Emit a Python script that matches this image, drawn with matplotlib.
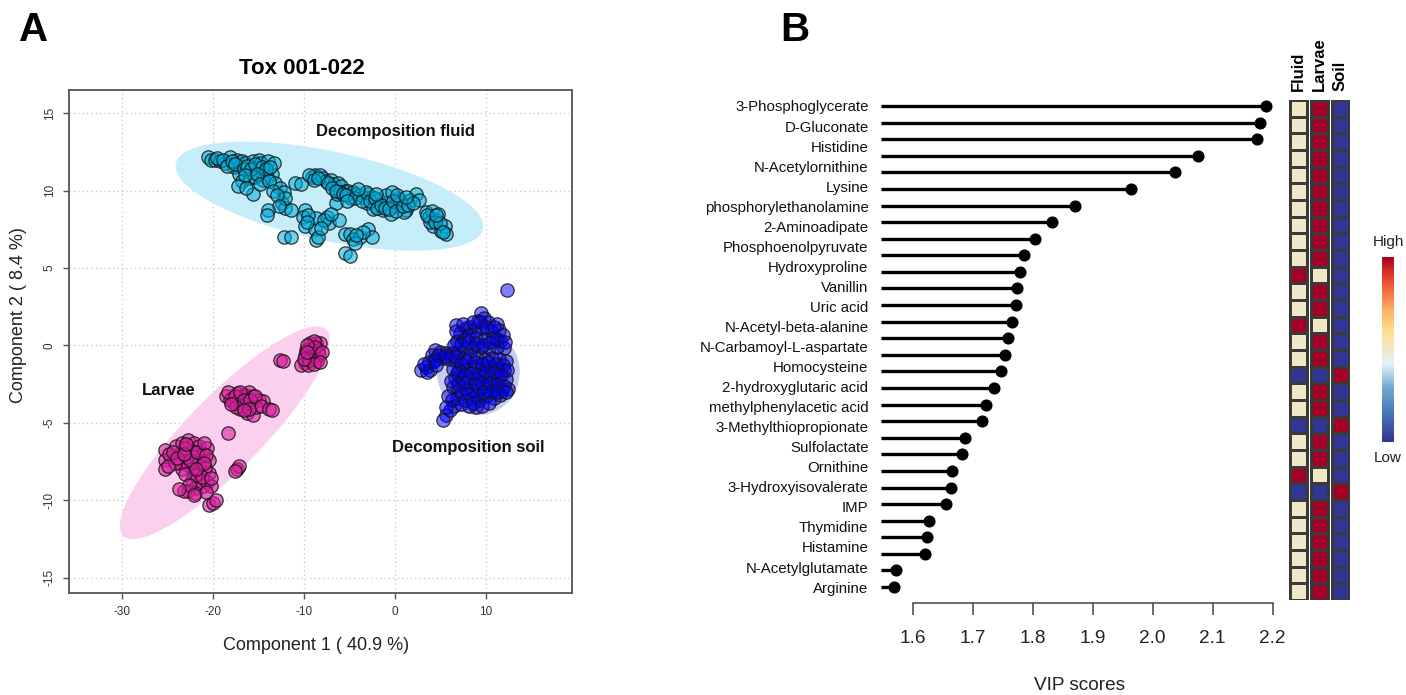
import numpy as np
import matplotlib
matplotlib.use("Agg")
import matplotlib.pyplot as plt
from matplotlib.colors import LinearSegmentedColormap

plt.rcParams['font.family'] = ['Liberation Sans', 'DejaVu Sans']
plt.rcParams['axes.unicode_minus'] = False

# ---------------- Panel A: PLS-DA score plot ----------------
fluid_scores = [
    (-20.5, 12.2), (-20.2, 12.0), (-19.8, 11.95), (-19.2, 11.9), (-18.7, 11.8), (-18.1, 12.2),
    (-17.7, 11.5), (-17.3, 12.0), (-17.0, 11.6), (-16.8, 11.9), (-16.4, 11.8), (-16.0, 11.2),
    (-15.6, 11.9), (-15.2, 11.5), (-14.9, 12.0), (-14.7, 11.8), (-14.3, 11.3), (-13.9, 11.9),
    (-13.5, 11.1), (-13.3, 11.8), (-17.1, 11.1), (-16.8, 10.6), (-15.9, 10.8), (-15.3, 10.9),
    (-14.5, 10.7), (-14.0, 10.9), (-13.1, 10.5), (-12.6, 10.2), (-15.6, 9.8), (-17.2, 10.3),
    (-12.2, 9.9), (-12.4, 9.2), (-12.0, 8.9), (-11.4, 8.75), (-12.0, 9.5),
    (-19.5, 12.1), (-18.9, 12.0), (-18.4, 11.6), (-17.9, 11.9), (-17.5, 11.7), (-16.6, 11.4),
    (-16.2, 11.6), (-15.8, 11.4), (-15.4, 11.7), (-14.6, 11.5), (-14.1, 11.4), (-13.7, 11.5),
    (-16.5, 11.0), (-15.1, 11.1), (-14.8, 10.4), (-13.8, 10.6), (-13.4, 10.0), (-12.9, 9.7),
    (-12.7, 9.0), (-16.3, 10.2),
    (-13.9, 8.75), (-14.0, 8.4), (-12.2, 7.0), (-11.4, 7.0), (-10.9, 10.5), (-10.3, 10.4),
    (-9.9, 8.75), (-10.1, 8.3), (-9.8, 7.7), (-8.8, 7.5), (-8.6, 6.8), (-8.4, 7.0), (-8.6, 8.2),
    (-7.4, 8.3), (-7.2, 7.9), (-6.1, 8.1), (-6.5, 9.2), (-6.3, 9.8),
    (-9.5, 8.4), (-9.6, 8.0), (-7.8, 8.1), (-8.1, 7.6), (-7.0, 8.5),
    (-9.1, 10.9), (-8.7, 11.0), (-8.2, 11.0), (-7.9, 10.8), (-7.6, 10.6), (-7.0, 10.7),
    (-6.7, 10.4), (-6.2, 10.5), (-5.9, 10.3), (-5.5, 10.0), (-5.1, 10.0), (-4.6, 9.9),
    (-4.2, 9.8), (-3.8, 9.7), (-3.4, 9.6), (-2.9, 9.8), (-2.5, 9.6), (-2.1, 9.0), (-1.7, 9.4),
    (-1.3, 8.75), (-0.8, 9.2), (-0.4, 8.5), (0.0, 9.0), (0.4, 9.5), (0.8, 9.2), (1.3, 8.75),
    (0.6, 9.4), (1.7, 9.4), (2.3, 9.8), (2.7, 9.4), (-3.0, 9.2), (-1.0, 9.7), (-4.8, 9.5),
    (-6.0, 9.9), (-2.4, 8.8), (1.0, 8.6), (-0.3, 9.9),
    (-9.4, 11.0), (-8.9, 10.7), (-8.4, 10.8), (-7.3, 10.5), (-6.9, 10.2), (-6.4, 10.0),
    (-5.7, 9.8), (-5.3, 9.7), (-4.4, 9.5), (-3.6, 9.3), (-3.2, 9.9), (-2.7, 9.3), (-2.2, 9.5),
    (-1.9, 8.9), (-1.5, 9.1), (-1.1, 8.9), (-0.6, 8.8), (-0.2, 9.3), (0.2, 8.7), (0.9, 9.0),
    (1.5, 9.1), (2.0, 9.2), (-4.0, 10.1), (-2.0, 9.8), (0.3, 9.7), (1.2, 9.6), (-5.2, 9.3),
    (-5.5, 7.2), (-4.9, 7.2), (-4.6, 6.9), (-3.8, 7.0), (-2.9, 7.5), (-2.5, 7.0), (-4.4, 6.6),
    (-3.5, 7.3), (-4.2, 7.1), (-5.5, 5.96), (-4.9, 5.8),
    (3.4, 8.6), (3.8, 8.3), (4.1, 8.7), (4.6, 8.1), (4.2, 7.7), (4.8, 8.5), (5.1, 7.4),
    (5.5, 7.7), (5.7, 7.2), (3.9, 8.0), (3.6, 8.4), (4.4, 8.0), (5.0, 7.9), (5.3, 7.3),
    (4.5, 8.4),
]

larvae_scores = [
    (-9.3, 0.15), (-8.6, 0.15), (-8.2, 0.15), (-8.9, 0.3), (-9.7, -0.28), (-9.1, -0.28),
    (-8.4, -0.28), (-9.9, -0.6), (-9.3, -0.7), (-8.6, -0.8), (-9.9, -1.14), (-10.3, -1.25),
    (-9.5, -1.25), (-8.5, -1.03), (-9.0, -0.5), (-8.3, -0.6), (-8.8, -0.1), (-9.6, 0.0),
    (-8.0, -0.4), (-9.4, -0.95), (-8.9, -1.2), (-10.0, -0.9), (-8.2, -1.1), (-9.6, -0.45),
    (-12.6, -0.93), (-12.3, -1.0),
    (-18.5, -3.3), (-17.9, -3.4), (-17.3, -3.1), (-16.9, -3.3), (-16.4, -3.2), (-16.0, -3.0),
    (-15.6, -3.3), (-14.9, -3.5), (-17.1, -3.6), (-17.7, -3.7), (-16.4, -3.8), (-15.8, -3.9),
    (-16.2, -4.4), (-15.6, -4.5), (-18.1, -3.5), (-16.8, -3.9), (-14.5, -3.6), (-15.2, -4.0),
    (-17.0, -4.1), (-18.3, -3.0), (-17.6, -3.3), (-17.0, -3.0), (-16.6, -3.5), (-15.9, -3.5),
    (-15.3, -3.3), (-14.7, -3.9), (-16.0, -4.1), (-17.4, -4.0), (-16.6, -4.2), (-18.0, -3.8),
    (-13.8, -4.1), (-13.5, -4.15),
    (-18.3, -5.67),
    (-17.3, -8.0), (-17.1, -7.8), (-17.5, -8.1),
    (-25.3, -6.75), (-24.6, -7.2), (-25.3, -7.4), (-25.3, -8.0), (-24.0, -6.5), (-23.6, -7.0),
    (-23.4, -6.3), (-22.7, -6.1), (-22.1, -6.3), (-21.5, -6.5), (-20.6, -6.6), (-22.3, -6.8),
    (-22.9, -7.2), (-21.9, -7.2), (-21.1, -7.0), (-20.4, -7.4), (-23.6, -7.6), (-22.7, -7.7),
    (-21.5, -7.6), (-22.3, -8.0), (-23.4, -8.0), (-21.5, -8.25), (-20.4, -8.25), (-22.3, -8.7),
    (-21.5, -8.8), (-20.6, -8.8), (-21.1, -9.1), (-21.9, -9.2), (-22.7, -9.4), (-23.2, -9.4),
    (-21.9, -9.55), (-20.2, -9.1), (-24.2, -7.6), (-24.8, -7.0), (-20.8, -7.9), (-22.0, -8.4),
    (-24.9, -7.8), (-24.4, -6.9), (-23.9, -7.3), (-23.1, -6.6), (-22.5, -7.4), (-21.7, -6.9),
    (-21.0, -6.3), (-20.7, -7.1), (-23.0, -8.3), (-22.6, -9.0), (-21.2, -8.5), (-20.7, -9.5),
    (-22.1, -9.7), (-23.7, -9.3), (-21.0, -7.6), (-20.2, -8.6), (-21.8, -8.0), (-23.2, -7.0),
    (-22.9, -6.4),
    (-20.4, -10.3), (-20.0, -10.2), (-19.6, -10.0),
]

soil_scores = [
    (9.5, 2.1), (9.8, 1.8), (9.2, 1.6), (10.3, 1.5), (11.2, 1.4), (11.5, 1.0), (6.7, 1.3),
    (7.8, 1.1), (8.3, 1.2), (8.8, 1.0), (9.6, 1.1), (10.6, 0.9), (7.2, 0.8), (6.9, 0.3),
    (7.6, 0.4), (8.2, 0.6), (9.0, 0.5), (9.9, 0.4), (10.8, 0.5), (11.6, 0.3), (12.0, -0.2),
    (11.2, -0.1), (10.4, -0.2), (9.5, -0.1), (8.6, -0.1), (7.8, -0.2), (7.0, -0.4), (6.3, -0.5),
    (5.7, -0.5), (5.0, -0.4), (4.4, -0.3), (4.1, -0.6), (3.8, -1.1), (3.4, -1.4), (2.9, -1.6),
    (3.9, -1.6), (4.6, -0.9), (5.3, -0.8), (6.0, -0.9), (6.8, -1.0), (7.5, -0.8), (8.3, -0.7),
    (9.1, -0.8), (9.9, -0.9), (10.7, -0.8), (11.5, -0.9), (12.2, -1.0), (12.0, -1.6),
    (11.2, -1.5), (10.4, -1.4), (9.5, -1.5), (8.7, -1.4), (7.9, -1.5), (7.1, -1.6), (6.4, -1.5),
    (6.6, -2.1), (7.4, -2.2), (8.2, -2.1), (9.0, -2.2), (9.8, -2.0), (10.6, -2.1), (11.4, -2.2),
    (12.2, -2.2), (12.5, -2.8), (11.8, -2.9), (11.0, -2.8), (10.2, -2.7), (9.4, -2.8),
    (8.6, -2.9), (7.8, -2.8), (7.0, -2.9), (6.4, -2.7), (6.9, -3.4), (7.7, -3.5), (8.5, -3.4),
    (9.3, -3.5), (10.1, -3.3), (10.9, -3.4), (11.6, -3.2), (9.0, -4.0), (8.2, -3.9), (6.5, -3.9),
    (5.9, -3.3), (5.7, -4.5), (5.3, -4.8), (6.1, -4.2),
    (6.8, 0.9), (7.5, 1.4), (8.6, 1.5), (9.4, 1.5), (10.0, 1.2), (10.9, 1.2), (11.9, 0.7),
    (6.5, 0.0), (7.3, 0.1), (8.1, 0.2), (8.9, 0.1), (9.7, 0.0), (10.5, 0.2), (11.3, 0.4),
    (12.1, 0.2), (6.6, -0.7), (7.3, -1.2), (8.0, -1.0), (8.8, -1.1), (9.6, -1.2), (10.3, -1.1),
    (11.1, -1.2), (11.9, -1.3), (12.4, -1.6), (6.9, -1.8), (7.7, -1.9), (8.5, -1.8), (9.3, -1.9),
    (10.1, -1.7), (10.9, -1.8), (11.7, -1.9), (6.2, -2.3), (7.0, -2.5), (7.9, -2.4), (8.8, -2.5),
    (9.6, -2.4), (10.4, -2.4), (11.2, -2.5), (12.0, -2.6), (7.3, -3.1), (8.1, -3.1), (8.9, -3.2),
    (9.8, -3.0), (10.6, -3.0), (11.3, -3.0), (12.2, -3.0), (7.3, -3.8), (8.6, -3.7), (9.6, -3.9),
    (10.4, -3.7), (6.3, -3.5), (5.6, -4.0), (5.5, -0.7), (4.8, -0.6), (4.3, -1.0), (3.6, -1.7),
    (3.2, -1.2), (4.5, -1.3),
    (12.3, 3.6),
]

# confidence ellipses: centre and the two semi-axis vectors (score units)
fluid_ellipse = {"center": (-7.17, 9.64), "major": (16.86, -2.17), "minor": (-1.36, -2.78)}
larvae_ellipse = {"center": (-18.66, -5.64), "major": (11.05, 6.72), "minor": (3.32, -1.435)}
soil_ellipse = {"center": (9.2, -1.7), "major": (0.0, 2.81), "minor": (4.55, 0.0)}

group_labels = ["Decomposition fluid", "Larvae", "Decomposition soil"]
group_label_pos = [(0.1, 13.8), (-24.8, -2.9), (8.1, -6.6)]

# ---------------- Panel B: VIP scores + group heatmap ----------------
vip_labels = [
    "3-Phosphoglycerate", "D-Gluconate", "Histidine", "N-Acetylornithine", "Lysine",
    "phosphorylethanolamine", "2-Aminoadipate", "Phosphoenolpyruvate", "Hydroxyproline",
    "Vanillin", "Uric acid", "N-Acetyl-beta-alanine", "N-Carbamoyl-L-aspartate",
    "Homocysteine", "2-hydroxyglutaric acid", "methylphenylacetic acid",
    "3-Methylthiopropionate", "Sulfolactate", "Ornithine", "3-Hydroxyisovalerate", "IMP",
    "Thymidine", "Histamine", "N-Acetylglutamate", "Arginine",
]
vip_scores = [
    2.189, 2.179, 2.173, 2.075, 2.037, 1.964, 1.870, 1.832, 1.804, 1.785,
    1.779, 1.774, 1.772, 1.765, 1.759, 1.753, 1.747, 1.736, 1.722, 1.716,
    1.687, 1.682, 1.665, 1.663, 1.655, 1.627, 1.624, 1.621, 1.572, 1.569,
]
vip_ticks = [1.6, 1.7, 1.8, 1.9, 2.0, 2.1, 2.2]

# relative level per group: -1 low, 0 middle, 1 high
heat_groups = ["Fluid", "Larvae", "Soil"]
fluid_level = [0]*10 + [1, 0, 0, 1, 0, 0, -1, 0, 0, -1, 0, 0, 1, -1] + [0]*6
larvae_level = [1]*10 + [0, 1, 1, 0, 1, 1, -1, 1, 1, -1, 1, 1, 0, -1] + [1]*6
soil_level = [-1]*16 + [1, -1, -1, 1, -1, -1, -1, 1] + [-1]*6

# ---------------- figure ----------------
W, H = 1406, 695
fig = plt.figure(figsize=(W / 100, H / 100), dpi=100)


def box(left, top, right, bottom):
    return [left / W, 1 - bottom / H, (right - left) / W, (bottom - top) / H]


# ---- Panel A ----
axA = fig.add_axes(box(69, 90, 572, 593))
axA.set_xlim(-35.8, 19.5)
axA.set_ylim(-16.0, 16.5)
axA.set_xticks([-30, -20, -10, 0, 10])
axA.set_yticks([-15, -10, -5, 0, 5, 10, 15])
axA.set_yticklabels([str(v) for v in [-15, -10, -5, 0, 5, 10, 15]], rotation=90, va='center')
axA.grid(True, linestyle=(0, (1, 2.5)), color='#c4c4c4', lw=0.9)
axA.set_axisbelow(True)
for sp in axA.spines.values():
    sp.set_color('#555555')
    sp.set_linewidth(1.3)
axA.tick_params(axis='both', direction='out', length=4.5, width=1, color='#555555',
                labelsize=8.5, labelcolor='#333333', pad=5)

t = np.linspace(0, 2 * np.pi, 300)
ellipse_fill = ['#c6eefa', '#fbd0ee', '#c9c9f6']
point_face = [(0.0, 0.68, 0.86, 0.55), (0.86, 0.12, 0.62, 0.6), (0.0, 0.0, 1.0, 0.5)]
groups = [
    (fluid_scores, fluid_ellipse),
    (larvae_scores, larvae_ellipse),
    (soil_scores, soil_ellipse),
]
for (pts, ell), fc_ell in zip(groups, ellipse_fill):
    c = np.array(ell["center"])
    a = np.array(ell["major"])
    b = np.array(ell["minor"])
    ex = c[0] + np.cos(t) * a[0] + np.sin(t) * b[0]
    ey = c[1] + np.cos(t) * a[1] + np.sin(t) * b[1]
    axA.fill(ex, ey, color=fc_ell, lw=0, zorder=1)
for (pts, ell), fc in zip(groups, point_face):
    p = np.array(pts)
    axA.scatter(p[:, 0], p[:, 1], s=92, facecolor=fc, edgecolor=(0.08, 0.08, 0.08, 0.85),
                linewidth=0.9, zorder=2)

for lab, (lx, ly) in zip(group_labels, group_label_pos):
    axA.text(lx, ly, lab, ha='center', va='center', fontsize=12, fontweight='bold',
             color='#111111', zorder=3)

fig.text(302 / W, 1 - 68 / H, "Tox 001-022", ha='center', va='center', fontsize=16,
         fontweight='bold')
fig.text(316 / W, 1 - 646 / H, "Component 1 ( 40.9 %)", ha='center', va='center',
         fontsize=13, color='#222222')
fig.text(19 / W, 1 - 315 / H, "Component 2 ( 8.4 %)", ha='center', va='center',
         fontsize=13, rotation=90, color='#222222')
fig.text(34 / W, 1 - 30 / H, "A", ha='center', va='center', fontsize=29, fontweight='bold')
fig.text(795 / W, 1 - 30 / H, "B", ha='center', va='center', fontsize=29, fontweight='bold')

# ---- Panel B: lollipops ----
n = len(vip_scores)
rows = np.arange(n)
axB = fig.add_axes(box(881, 100, 1279, 603))
axB.set_xlim(1.547, 2.2105)
axB.set_ylim(n - 1 + 0.96, -0.36)
x_start = axB.get_xlim()[0]
axB.hlines(rows, x_start, vip_scores, color='black', lw=2.4)
axB.plot(vip_scores, rows, 'o', color='black', ms=7.7)
axB.set_yticks(np.linspace(0, n - 1, len(vip_labels)))
axB.set_yticklabels(vip_labels, fontsize=10.8, color='#111111')
axB.tick_params(axis='y', length=0, pad=9)
for s in ['top', 'right', 'left']:
    axB.spines[s].set_visible(False)
axB.spines['bottom'].set_bounds(vip_ticks[0], vip_ticks[-1])
axB.spines['bottom'].set_color('#444444')
axB.spines['bottom'].set_linewidth(1.1)
axB.set_xticks(vip_ticks)
axB.set_xticklabels([f"{v:.1f}" for v in vip_ticks])
axB.tick_params(axis='x', direction='out', length=8.6, width=1.1, color='#444444', pad=11,
                labelsize=13.7, labelcolor='#222222')
fig.text(1080 / W, 1 - 685 / H, "VIP scores", ha='center', va='center', fontsize=13.7,
         color='#222222')

# ---- Panel B: group heatmap ----
cmap = LinearSegmentedColormap.from_list("vip_heat", [
    (0.0, '#313695'), (0.15, '#4575b4'), (0.3, '#74add1'), (0.42, '#e0f3f8'),
    (0.5, '#f0e8c8'), (0.6, '#fee090'), (0.72, '#fdae61'), (0.82, '#f46d43'),
    (0.92, '#d73027'), (1.0, '#a50026')])

col_w, gap = 1.0, 0.21
axH = fig.add_axes(box(1289, 100, 1349.5, 600))
for j, (name, lev) in enumerate(zip(heat_groups, [fluid_level, larvae_level, soil_level])):
    x0 = j * (col_w + gap)
    axH.pcolormesh([x0, x0 + col_w], np.arange(len(lev) + 1), np.array(lev).reshape(-1, 1),
                   cmap=cmap, vmin=-1, vmax=1, edgecolors='#3a3a3a', linewidth=0.9)
    axH.text(x0 + col_w / 2, -0.55, name, rotation=90, ha='center', va='bottom',
             fontsize=12, fontweight='bold')
axH.set_xlim(-0.03, 3 * col_w + 2 * gap + 0.03)
axH.set_ylim(len(fluid_level), 0)
axH.axis('off')

axC = fig.add_axes(box(1382, 257, 1394, 442))
axC.imshow(np.linspace(1, -1, 256).reshape(-1, 1), aspect='auto', cmap=cmap, vmin=-1, vmax=1)
axC.axis('off')
fig.text(1388 / W, 1 - 242 / H, "High", ha='center', va='center', fontsize=11,
         color='#222222')
fig.text(1388 / W, 1 - 458 / H, "Low", ha='center', va='center', fontsize=11,
         color='#222222')

fig.savefig("out.png", dpi=100)
